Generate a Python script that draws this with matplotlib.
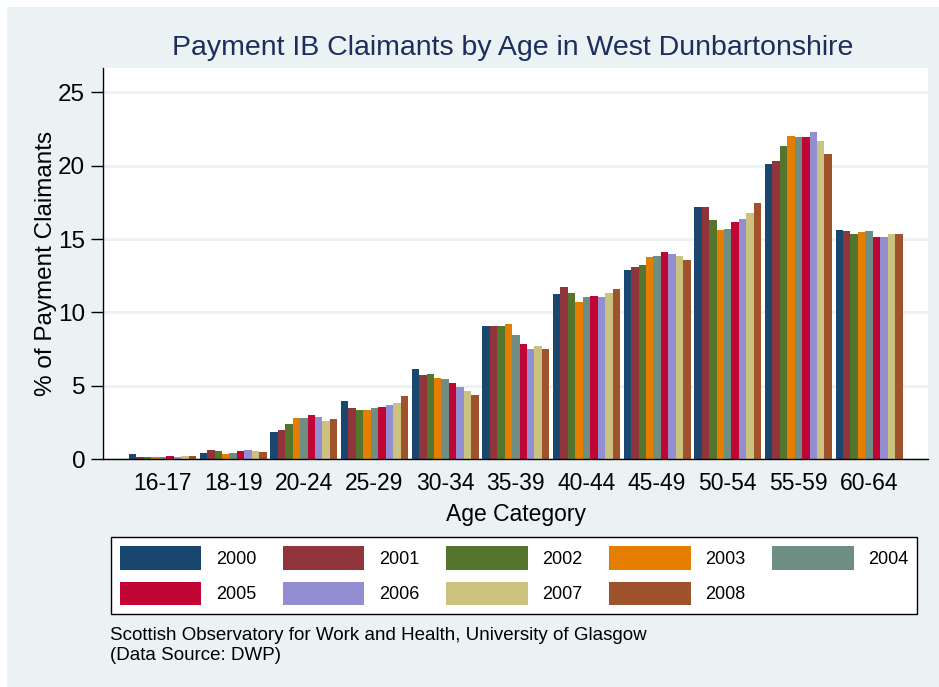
import matplotlib.pyplot as plt
import numpy as np
from matplotlib.patches import Patch, Rectangle

plt.rcParams['font.family'] = ['Liberation Sans', 'DejaVu Sans']

age_groups = ['16-17', '18-19', '20-24', '25-29', '30-34', '35-39',
              '40-44', '45-49', '50-54', '55-59', '60-64']
years = ['2000', '2001', '2002', '2003', '2004', '2005', '2006', '2007', '2008']

# % of payment claimants, one list per year (values by age group)
y2000 = [0.34, 0.45, 1.89, 3.96, 6.14, 9.07, 11.27, 12.90, 17.18, 20.14, 15.61]
y2001 = [0.18, 0.64, 2.02, 3.48, 5.75, 9.07, 11.75, 13.10, 17.16, 20.32, 15.55]
y2002 = [0.18, 0.57, 2.43, 3.36, 5.80, 9.11, 11.34, 13.20, 16.30, 21.34, 15.34]
y2003 = [0.18, 0.39, 2.82, 3.36, 5.55, 9.23, 10.70, 13.75, 15.64, 22.02, 15.48]
y2004 = [0.18, 0.41, 2.82, 3.50, 5.45, 8.45, 11.07, 13.86, 15.68, 21.98, 15.52]
y2005 = [0.20, 0.55, 3.00, 3.57, 5.18, 7.82, 11.14, 14.10, 16.18, 21.95, 15.14]
y2006 = [0.18, 0.64, 2.89, 3.70, 4.91, 7.48, 11.07, 14.00, 16.39, 22.27, 15.16]
y2007 = [0.20, 0.57, 2.61, 3.82, 4.66, 7.73, 11.34, 13.86, 16.77, 21.70, 15.32]
y2008 = [0.20, 0.50, 2.77, 4.32, 4.39, 7.52, 11.60, 13.60, 17.48, 20.77, 15.32]
series = [y2000, y2001, y2002, y2003, y2004, y2005, y2006, y2007, y2008]

colors = ['#1a476f', '#90353b', '#55752f', '#e37e00', '#6e8e84',
          '#c10534', '#938dd2', '#cac27e', '#a0522d']

bg = '#eaf2f3'
fig = plt.figure(figsize=(9.39, 6.87), dpi=100, facecolor='white')
fig.patches.append(Rectangle((7 / 939, 0), 1, 1 - 7 / 687, transform=fig.transFigure,
                             facecolor=bg, edgecolor='none', zorder=-10))

ax = fig.add_axes([0.110, 0.3314, 0.878, 0.5692])
ax.set_zorder(2)
x = np.arange(len(age_groups))
group_w = 0.948
w = group_w / len(years)
for j, (vals, c) in enumerate(zip(series, colors)):
    ax.bar(x + (j - 4) * w, vals, width=w, color=c, linewidth=0, zorder=3)

ax.set_xlim(-0.838, 10.83)
ax.set_ylim(0, 26.63)
ax.set_yticks([0, 5, 10, 15, 20, 25])
ax.yaxis.grid(True, color=bg, linewidth=2.2, zorder=1)
ax.set_xticks(x)
ax.set_xticklabels(age_groups)
ax.tick_params(axis='x', length=0, labelsize=16.5, pad=9)
ax.tick_params(axis='y', length=9, width=1, labelsize=17.5, pad=4)
for s in ['top', 'right']:
    ax.spines[s].set_visible(False)
ax.spines['left'].set_linewidth(1)
ax.spines['bottom'].set_linewidth(1)
ax.spines['bottom'].set_zorder(4)

ax.set_ylabel('% of Payment Claimants', fontsize=17.5, labelpad=1)
ax.set_xlabel('Age Category', fontsize=16.5, labelpad=6)
fig.text(0.5455, 1 - 48 / 687, 'Payment IB Claimants by Age in West Dunbartonshire',
         ha='center', va='center', fontsize=20.5, color='#1c2d5e')

# legend fills column by column; reorder so rows read 2000-2004, 2005-2008
order = [0, 5, 1, 6, 2, 7, 3, 8, 4]
handles = [Patch(facecolor=colors[i], edgecolor='none') for i in order]
labels = [years[i] for i in order]
leg = fig.legend(handles, labels, loc='upper left', ncol=5,
                 bbox_to_anchor=(111 / 939, 1 - 537 / 687), borderaxespad=0,
                 fontsize=13, handlelength=4.5, handleheight=1.65,
                 handletextpad=0.8, columnspacing=1.5, labelspacing=0.65,
                 borderpad=0.5, frameon=True, fancybox=False, framealpha=1)
leg.get_frame().set_edgecolor('black')
leg.get_frame().set_facecolor('white')
leg.get_frame().set_linewidth(1)

fig.text(110 / 939, 1 - 636 / 687, 'Scottish Observatory for Work and Health, University of Glasgow',
         ha='left', va='center', fontsize=13.5)
fig.text(110 / 939, 1 - 656 / 687, '(Data Source: DWP)', ha='left', va='center', fontsize=13.5)

fig.savefig('out.png', dpi=100, facecolor=fig.get_facecolor())
